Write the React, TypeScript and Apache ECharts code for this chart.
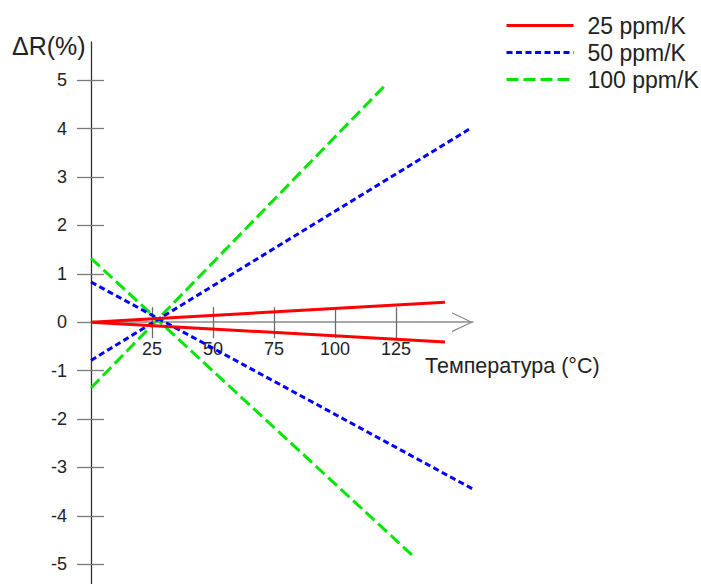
import React, { useEffect, useRef } from "react";
import * as echarts from "echarts";

// ---- data ----
const seriesNames = ["25 ppm/K", "50 ppm/K", "100 ppm/K"];
const seriesColors = ["#ff0000", "#0000ff", "#00e600"];
const xTickValues = [25, 50, 75, 100, 125];
const yTickValues = [-5, -4, -3, -2, -1, 0, 1, 2, 3, 4, 5];
// [temperature °C, ΔR %]
const red25Up = [[0, 0], [145, 0.41]];
const red25Down = [[0, 0], [145, -0.41]];
const blue50Up = [[0, -0.79], [155, 3.99]];
const blue50Down = [[0, 0.83], [156.5, -3.45]];
const green100Up = [[0, -1.36], [121, 4.92]];
const green100Down = [[0, 1.32], [133, -4.88]];
const xAxisTitle = "Температура (°C)";
const yAxisTitle = "ΔR(%)";

const FONT = "'Liberation Sans', Arial, sans-serif";

const Y_MIN = -5.41;
const Y_MAX = 5.79;
const GRID_TOP = 42;
const GRID_H = 542;

export default function App() {
  const ref = useRef<HTMLDivElement>(null);
  useEffect(() => {
    if (!ref.current) return;
    const chart = echarts.init(ref.current, null, { renderer: "svg" });
    const lineSeries = (name: string, color: string, data: number[][], type: any, z: number) => ({
      type: "line",
      name,
      data,
      symbol: "none",
      showSymbol: false,
      z,
      lineStyle: { color, width: 3, type, cap: "butt" },
      itemStyle: { color },
      emphasis: { disabled: true },
    });
    const arrowPath = "path://M10,0 L20,21 L18.6,21 L10,2.6 L1.4,21 L0,21 Z";
    // distance from grid bottom up to the zero line
    const zeroFromBottom = ((0 - Y_MIN) / (Y_MAX - Y_MIN)) * GRID_H;
    const baseX = {
      type: "value",
      min: 0,
      max: 156.5,
      position: "bottom",
      offset: -zeroFromBottom,
      splitLine: { show: false },
    };
    const baseY = {
      type: "value",
      min: Y_MIN,
      max: Y_MAX,
      position: "left",
      offset: 0,
      splitLine: { show: false },
    };
    chart.setOption({
      animation: false,
      grid: {
        left: 91,
        top: GRID_TOP,
        width: 382,
        height: GRID_H,
        containLabel: false,
        outerBoundsMode: "none",
      },
      legend: {
        orient: "vertical",
        left: 505,
        top: 12,
        padding: 0,
        itemWidth: 67,
        itemHeight: 14,
        itemGap: 0,
        data: seriesNames,
        itemStyle: { opacity: 0 },
        lineStyle: { width: 3 },
        textStyle: {
          fontFamily: FONT,
          fontSize: 23,
          color: "#222",
          lineHeight: 27,
          padding: [0, 0, 0, 9],
        },
      },
      xAxis: [
        {
          ...baseX,
          axisLine: {
            show: true,
            onZero: false,
            lineStyle: { color: "#8a8a8a", width: 1.5 },
            symbol: ["none", arrowPath],
            symbolSize: [20, 21],
            symbolOffset: [0, -10.5],
          },
          axisTick: {
            show: true,
            length: 16,
            inside: false,
            customValues: xTickValues,
            lineStyle: { color: "#6a6a6a", width: 1.3 },
          },
          axisLabel: {
            show: true,
            customValues: xTickValues,
            margin: 18,
            fontFamily: FONT,
            fontSize: 18,
            color: "#222",
          },
        },
        {
          ...baseX,
          axisLine: { show: false, onZero: false },
          axisTick: {
            show: true,
            length: 15,
            inside: true,
            customValues: xTickValues,
            lineStyle: { color: "#6a6a6a", width: 1.3 },
          },
          axisLabel: { show: false },
        },
      ],
      yAxis: [
        {
          ...baseY,
          axisLine: { show: true, onZero: false, lineStyle: { color: "#333", width: 1.3 } },
          axisTick: {
            show: true,
            length: 14,
            inside: false,
            customValues: yTickValues,
            lineStyle: { color: "#7a7a7a", width: 1.3 },
          },
          axisLabel: {
            show: true,
            customValues: yTickValues,
            margin: 24,
            fontFamily: FONT,
            fontSize: 18,
            color: "#222",
            formatter: (v: number) => String(v),
          },
        },
        {
          ...baseY,
          axisLine: { show: false, onZero: false },
          axisTick: {
            show: true,
            length: 13,
            inside: true,
            customValues: yTickValues.filter((v) => v !== 0),
            lineStyle: { color: "#7a7a7a", width: 1.3 },
          },
          axisLabel: { show: false },
        },
      ],
      graphic: [
        {
          type: "text",
          left: 425,
          top: 355,
          style: { text: xAxisTitle, fontFamily: FONT, fontSize: 21.5, fill: "#222" },
        },
        {
          type: "text",
          left: 12,
          top: 33,
          style: { text: yAxisTitle, fontFamily: FONT, fontSize: 25, fill: "#222" },
        },
      ],
      series: [
        lineSeries(seriesNames[2], seriesColors[2], green100Up, [12, 5], 2),
        lineSeries(seriesNames[2], seriesColors[2], green100Down, [12, 5], 2),
        lineSeries(seriesNames[1], seriesColors[1], blue50Up, [6, 3.5], 3),
        lineSeries(seriesNames[1], seriesColors[1], blue50Down, [6, 3.5], 3),
        lineSeries(seriesNames[0], seriesColors[0], red25Up, "solid", 4),
        lineSeries(seriesNames[0], seriesColors[0], red25Down, "solid", 4),
      ],
    });
    return () => chart.dispose();
  }, []);
  return (
    <div
      ref={ref}
      style={{ position: "fixed", left: 0, top: 0, width: 701, height: 584, background: "#fff" }}
    />
  );
}
